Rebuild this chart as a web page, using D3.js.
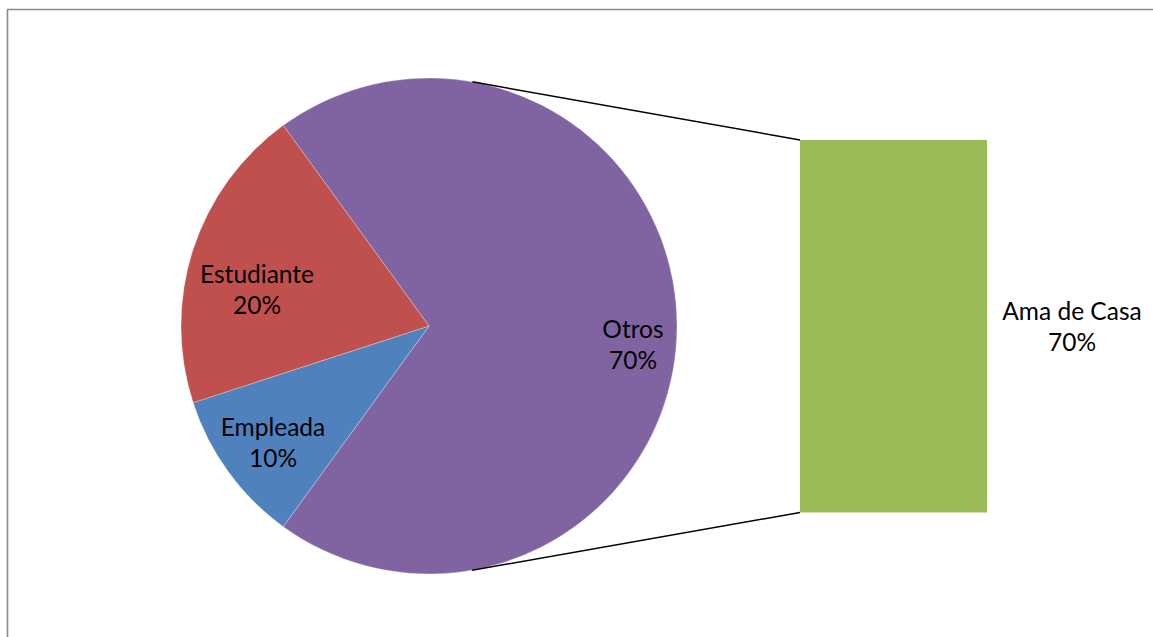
<!DOCTYPE html>
<html>
<head>
<meta charset="utf-8">
<script src="https://cdn.jsdelivr.net/npm/d3@7"></script>
<style>
  html, body { margin: 0; padding: 0; background: #fff; }
  svg { display: block; }
  text { font-family: Lato, "Open Sans", sans-serif; font-size: 24.5px; fill: #000; }
</style>
</head>
<body>
<svg id="chart" width="1153" height="637"></svg>
<script>
// Pie slices (Otros is broken out into the secondary bar)
const pieCategories = ["Otros", "Empleada", "Estudiante"];
const pieValues = [70, 10, 20];
const pieColors = ["#8064A2", "#4F81BD", "#C0504D"];

// Secondary bar: the breakdown of "Otros"
const barCategories = ["Ama de Casa"];
const barValues = [70];
const barColors = ["#9BBB59"];

const W = 1153, H = 637;
const svg = d3.select("#chart");

// Chart area frame
svg.append("path")
  .attr("d", `M7.5,${H + 2} V9.5 H${W + 2}`)
  .attr("fill", "none")
  .attr("stroke", "#8a8a8a")
  .attr("stroke-width", 1.6);

// Pie geometry
const cx = 429, cy = 326, r = 248;
const otrosShare = pieValues[0] / d3.sum(pieValues);
const start = Math.PI / 2 - otrosShare * Math.PI; // center the broken-out slice on the right

const pie = d3.pie().sort(null).value(d => d)
  .startAngle(start).endAngle(start + 2 * Math.PI);
const arcs = pie(pieValues);
const arc = d3.arc().innerRadius(0).outerRadius(r);

const g = svg.append("g").attr("transform", `translate(${cx},${cy})`);
g.selectAll("path.slice")
  .data(arcs)
  .join("path")
  .attr("class", "slice")
  .attr("d", arc)
  .attr("fill", (d, i) => pieColors[i])
  .attr("stroke", "rgba(255,255,255,0.35)")
  .attr("stroke-width", 0.8);

// Secondary bar
const barX = d3.scaleBand().domain(barCategories).range([800, 987]).padding(0);
const barY = d3.scaleLinear().domain([0, d3.sum(barValues)]).range([512.5, 140]);
let acc = 0;
const stacked = barValues.map((v, i) => { const s = { name: barCategories[i], y0: acc, y1: acc + v }; acc += v; return s; });

svg.selectAll("rect.bar")
  .data(stacked)
  .join("rect")
  .attr("class", "bar")
  .attr("x", d => barX(d.name))
  .attr("width", barX.bandwidth())
  .attr("y", d => barY(d.y1))
  .attr("height", d => barY(d.y0) - barY(d.y1))
  .attr("fill", (d, i) => barColors[i]);

// Connector lines: tangents from the bar's left corners to the pie
function tangentPoint(px, py, upper) {
  const dx = px - cx, dy = py - cy;
  const d = Math.hypot(dx, dy);
  const base = Math.atan2(dy, dx);
  const off = Math.acos(r / d);
  const a = upper ? base - off : base + off;
  return [cx + r * Math.cos(a), cy + r * Math.sin(a)];
}
const barLeft = barX.range()[0];
const corners = [[barLeft, barY(d3.sum(barValues)), true], [barLeft, barY(0), false]];
svg.selectAll("line.connector")
  .data(corners)
  .join("line")
  .attr("class", "connector")
  .attr("x1", d => tangentPoint(d[0], d[1], d[2])[0])
  .attr("y1", d => tangentPoint(d[0], d[1], d[2])[1])
  .attr("x2", d => d[0])
  .attr("y2", d => d[1])
  .attr("stroke", "#000")
  .attr("stroke-width", 1.5);

// Data labels: category name and percentage on two lines
const total = d3.sum(pieValues);
const pct = v => Math.round(v / total * 100) + "%";
const labelSpots = { "Otros": [633, 346], "Empleada": [273, 444], "Estudiante": [257, 291] };

function twoLineLabel(x, y, name, value) {
  const t = svg.append("text").attr("text-anchor", "middle");
  t.append("tspan").attr("x", x).attr("y", y - 8).text(name);
  t.append("tspan").attr("x", x).attr("y", y + 23).text(value);
}
pieCategories.forEach((name, i) => {
  const [x, y] = labelSpots[name];
  twoLineLabel(x, y, name, pct(pieValues[i]));
});
barCategories.forEach((name, i) => {
  twoLineLabel(1072, 328, name, pct(barValues[i]));
});
</script>
</body>
</html>
